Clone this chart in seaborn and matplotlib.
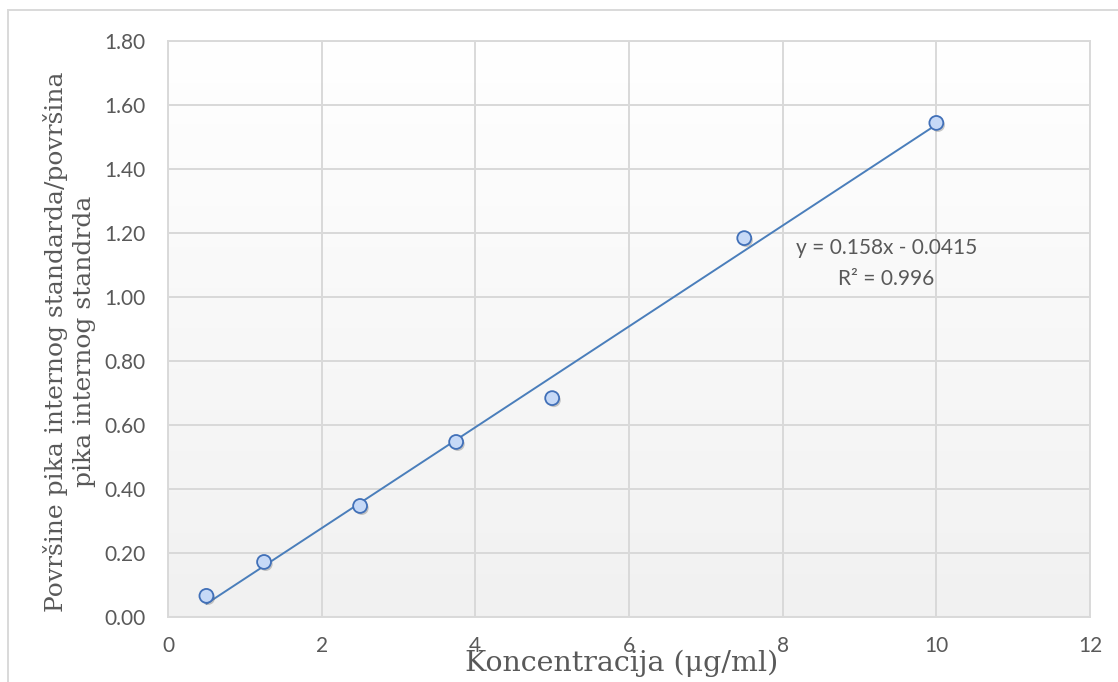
import numpy as np
import pandas as pd
import matplotlib
matplotlib.use("Agg")
import matplotlib.pyplot as plt
import matplotlib.patheffects as pe
from matplotlib.patches import Rectangle
import seaborn as sns

# Data
concentration = [0.5, 1.25, 2.5, 3.75, 5.0, 7.5, 10.0]
area_ratio = [0.066, 0.172, 0.347, 0.547, 0.684, 1.184, 1.544]
x_ticks = [0, 2, 4, 6, 8, 10, 12]
y_ticks = [0.0, 0.2, 0.4, 0.6, 0.8, 1.0, 1.2, 1.4, 1.6, 1.8]
equation_text = "y = 0.158x - 0.0415"
r2_text = "R² = 0.996"
x_label = "Koncentracija (μg/ml)"
y_label = "Površine pika internog standarda/površina\npika internog standrda"

df = pd.DataFrame({"x": concentration, "y": area_ratio})

sns.set_theme(style="white")
plt.rcParams["font.family"] = ["Lato", "DejaVu Sans"]

W, H = 1118, 682
fig = plt.figure(figsize=(W / 100, H / 100), dpi=100)
ax = fig.add_axes([168 / W, 1 - 617 / H, (1090 - 168) / W, (617 - 41) / H])

# gradient background
grad = np.linspace(0.945, 1.0, 256).reshape(-1, 1)
ax.imshow(np.dstack([grad, grad, grad]), aspect="auto", extent=[0, 12, 0, 1.8],
          origin="lower", zorder=0, interpolation="bicubic")

line_color = "#4a7ebb"
sns.regplot(data=df, x="x", y="y", ax=ax, ci=None, truncate=True, scatter=False,
            line_kws=dict(color=line_color, lw=1.4, zorder=3))
sc = ax.scatter(df["x"], df["y"], s=100, facecolor="#c6d9f7", edgecolor="#4170b8",
                linewidth=1.3, zorder=4)
sc.set_path_effects([pe.SimplePatchShadow(offset=(1.2, -1.5), alpha=0.35, shadow_rgbFace="#666666"),
                     pe.Normal()])

ax.set_xlim(0, 12)
ax.set_ylim(0, 1.8)
ax.set_xticks(x_ticks)
ax.set_yticks(y_ticks)
ax.set_xticklabels([str(t) for t in x_ticks])
ax.set_yticklabels([f"{t:.2f}" for t in y_ticks])
ax.tick_params(axis="both", length=0, labelsize=15, labelcolor="#595959")
ax.tick_params(axis="x", pad=14)
ax.tick_params(axis="y", pad=16)
ax.grid(True, color="#d9d9d9", lw=1.4, zorder=1)
ax.set_axisbelow(True)
for s in ax.spines.values():
    s.set_color("#d9d9d9")
    s.set_linewidth(1.4)

ax.set_xlabel(x_label, family=["DejaVu Serif"], fontsize=20.5, color="#595959")
ax.xaxis.set_label_coords(0.4924, -0.056)
ax.set_ylabel(y_label, family=["DejaVu Serif"], fontsize=18, color="#595959",
              linespacing=1.3)
ax.yaxis.set_label_coords(-0.078, 0.478)

ax.text(9.35, 1.153, equation_text, ha="center", va="center", fontsize=15, color="#595959", zorder=5)
ax.text(9.35, 1.056, r2_text, ha="center", va="center", fontsize=15, color="#595959", zorder=5)

# outer chart border
fig.patches.append(Rectangle((8 / W, -0.05), 1.2, 1 - 10 / H + 0.05, transform=fig.transFigure,
                             fill=False, edgecolor="#d9d9d9", lw=1.4, zorder=0))

fig.savefig("out.png", dpi=100)
